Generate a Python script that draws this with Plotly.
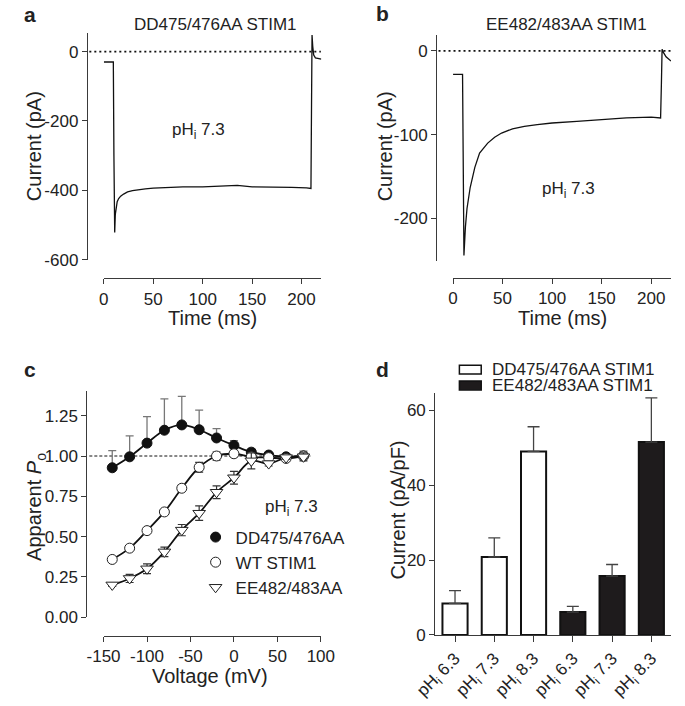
import plotly.graph_objects as go

W, H = 685, 706
FONT = "Liberation Sans, Arial, sans-serif"
TXT = "#222222"
AX = "#3a3a3a"

# ---------------- data ----------------
# Panel a: DD475/476AA STIM1 current trace
a_time = [0, 9.6, 10.2, 11.0, 11.6, 12.3, 13.5, 15, 17, 20, 24, 29, 35, 42, 50, 65, 80,
          100, 120, 135, 150, 170, 190, 205, 209.5, 210.1, 210.6, 211.3, 212.3, 214, 217, 220]
a_current = [-30, -30, -300, -522, -470, -448, -433, -424, -417, -411, -405, -401, -398, -396,
             -394, -392, -390, -390, -388, -386, -390, -392, -392, -393, -395, -150, 48, 15,
             -10, -18, -20, -22]

# Panel b: EE482/483AA STIM1 current trace
b_time = [0, 9.6, 10.2, 11.0, 12.5, 14.1, 17.3, 22, 26.8, 35, 42, 49, 60, 72, 85, 100, 125,
          150, 175, 200, 209.5, 210.3, 211.0, 212.5, 215, 220]
b_current = [-28, -28, -120, -244, -210, -188, -163, -139, -122, -110, -103, -98, -93, -90,
             -88, -86, -84, -82, -80, -79, -80, -40, 2, -2, -7, -12]

# Panel c: apparent Po vs voltage
c_voltage = [-140, -120, -100, -80, -60, -40, -20, 0, 20, 40, 60, 80]
c_dd = [0.927, 0.995, 1.08, 1.16, 1.193, 1.163, 1.112, 1.066, 1.024, 1.006, 0.995, 1.0]
c_dd_err = [0.107, 0.13, 0.165, 0.195, 0.177, 0.122, 0.058, 0.03, 0.018, 0.01, 0.01, 0.03]
c_wt = [0.358, 0.428, 0.537, 0.653, 0.80, 0.930, 1.0, 1.014, 0.995, 0.99, 0.985, 1.0]
c_wt_err = [0.01, 0.01, 0.01, 0.015, 0.02, 0.03, 0.025, 0.02, 0.02, 0.01, 0.01, 0.01]
c_ee = [0.20, 0.24, 0.30, 0.405, 0.54, 0.645, 0.775, 0.865, 0.97, 0.953, 0.99, 0.995]
c_ee_err = [0.01, 0.025, 0.03, 0.03, 0.035, 0.045, 0.04, 0.04, 0.05, 0.015, 0.01, 0.025]
c_names = ["DD475/476AA", "WT STIM1", "EE482/483AA"]

# Panel d: current density bars
d_ph = ["6.3", "7.3", "8.3"]
d_dd = [8.4, 20.8, 49.0]
d_dd_err = [3.4, 5.1, 6.6]
d_ee = [6.1, 15.7, 51.5]
d_ee_err = [1.5, 3.1, 11.8]
d_names = ["DD475/476AA STIM1", "EE482/483AA STIM1"]

a_yticks = [0, -200, -400, -600]
b_yticks = [0, -100, -200]
t_ticks = [0, 50, 100, 150, 200]
c_xticks = [-150, -100, -50, 0, 50, 100]
c_yticks = [0, 0.25, 0.5, 0.75, 1.0, 1.25]
d_yticks = [0, 20, 40, 60]


def fx(px):
    return px / W


def fy(py):
    return 1 - py / H


fig = go.Figure()

# ---- panel a
fig.add_trace(go.Scatter(x=a_time, y=a_current, mode="lines", xaxis="x", yaxis="y",
                         line=dict(color="#111111", width=1.3), showlegend=False))
# ---- panel b
fig.add_trace(go.Scatter(x=b_time, y=b_current, mode="lines", xaxis="x2", yaxis="y2",
                         line=dict(color="#111111", width=1.3), showlegend=False))

# ---- panel c : fitted/connecting lines
for vals in (c_dd, c_wt, c_ee):
    fig.add_trace(go.Scatter(x=c_voltage, y=vals, mode="lines", xaxis="x3", yaxis="y3",
                             line=dict(color="#111111", width=1.8, shape="spline"),
                             showlegend=False))
# markers
fig.add_trace(go.Scatter(
    x=c_voltage, y=c_dd, mode="markers", xaxis="x3", yaxis="y3", name=c_names[0],
    marker=dict(symbol="circle", size=10, color="#111111", line=dict(color="#111111", width=1)),
    error_y=dict(type="data", array=c_dd_err, arrayminus=[0] * len(c_dd_err), symmetric=False,
                 color="#777777", thickness=1.3, width=4),
    legend="legend"))
fig.add_trace(go.Scatter(
    x=c_voltage, y=c_wt, mode="markers", xaxis="x3", yaxis="y3", name=c_names[1],
    marker=dict(symbol="circle", size=10, color="white", line=dict(color="#222222", width=1)),
    error_y=dict(type="data", array=c_wt_err, color="#333333", thickness=1.2, width=4),
    legend="legend"))
fig.add_trace(go.Scatter(
    x=c_voltage, y=c_ee, mode="markers", xaxis="x3", yaxis="y3", name=c_names[2],
    marker=dict(symbol="triangle-down", size=11, color="white", line=dict(color="#222222", width=1)),
    error_y=dict(type="data", array=c_ee_err, color="#333333", thickness=1.2, width=4),
    legend="legend"))

# ---- panel d
n = len(d_ph)
fig.add_trace(go.Bar(
    x=list(range(n)), y=d_dd, xaxis="x4", yaxis="y4", width=0.64, name=d_names[0],
    marker=dict(color="white", line=dict(color="#111111", width=2)),
    error_y=dict(type="data", array=d_dd_err, arrayminus=[0] * n, symmetric=False,
                 color="#444444", thickness=1.3, width=6),
    showlegend=False))
fig.add_trace(go.Bar(
    x=list(range(n, 2 * n)), y=d_ee, xaxis="x4", yaxis="y4", width=0.64, name=d_names[1],
    marker=dict(color="#1e1b1c", line=dict(color="#111111", width=2)),
    error_y=dict(type="data", array=d_ee_err, arrayminus=[0] * n, symmetric=False,
                 color="#444444", thickness=1.3, width=6),
    showlegend=False))

tickfont = dict(family=FONT, size=17, color=TXT)
common = dict(showgrid=False, zeroline=False, showline=True, linecolor=AX, linewidth=1.3,
              ticks="outside", ticklen=5, tickwidth=1.3, tickcolor=AX, tickfont=tickfont,
              fixedrange=True)


def labels(vals, fmt="{:g}"):
    return [fmt.format(v) for v in vals]


layout = dict(
    width=W, height=H, margin=dict(l=0, r=0, t=0, b=0),
    paper_bgcolor="white", plot_bgcolor="white", hovermode=False,
    barmode="overlay",
    font=dict(family=FONT, size=17, color=TXT),
    xaxis=dict(domain=[fx(87.3), fx(316.5)], range=[0, 220], anchor="free", position=fy(282),
               tickvals=t_ticks, ticktext=labels(t_ticks), **common),
    yaxis=dict(domain=[fy(264), fy(33)], range=[-602, 55], anchor="free", position=fx(69.5),
               tickvals=a_yticks, ticktext=labels(a_yticks), **common),
    xaxis2=dict(domain=[fx(455.3), fx(685)], range=[0, 220], anchor="free", position=fy(281.7),
                tickvals=t_ticks, ticktext=labels(t_ticks), **common),
    yaxis2=dict(domain=[fy(265), fy(35)], range=[-251, 19.6], anchor="free", position=fx(437.7),
                tickvals=b_yticks, ticktext=labels(b_yticks), **common),
    xaxis3=dict(domain=[fx(87), fx(316)], range=[-150, 100], anchor="free", position=fy(645),
                tickvals=c_xticks, ticktext=labels(c_xticks), **common),
    yaxis3=dict(domain=[fy(626), fy(396.7)], range=[0, 1.403], anchor="free", position=fx(69),
                tickvals=c_yticks, ticktext=labels(c_yticks, "{:.2f}"), **common),
    xaxis4=dict(domain=[fx(436.7), fx(685)], range=[-0.5, 2 * n - 0.5], anchor="y4",
                tickvals=list(range(2 * n)),
                ticktext=["pH<sub>i</sub> " + p for p in d_ph] * 2, tickangle=-45,
                **{**common, "ticklen": 6}),
    yaxis4=dict(domain=[fy(644), fy(398.3)], range=[0, 64.7], anchor="x4",
                tickvals=d_yticks, ticktext=labels(d_yticks), **common),
    legend=dict(x=fx(184), y=fy(527), xanchor="left", yanchor="top",
                font=dict(family=FONT, size=17, color=TXT), bgcolor="rgba(0,0,0,0)",
                tracegroupgap=0, itemclick=False, itemdoubleclick=False),
)
fig.update_layout(**layout)

# reference lines
fig.add_shape(type="line", xref="paper", yref="y", x0=fx(72), x1=fx(316), y0=0, y1=0,
              line=dict(color="#111111", width=1.6, dash="2px,3px"))
fig.add_shape(type="line", xref="paper", yref="y2", x0=fx(440), x1=fx(685), y0=0, y1=0,
              line=dict(color="#111111", width=1.6, dash="2px,3px"))
fig.add_shape(type="line", xref="paper", yref="y3", x0=fx(72), x1=fx(305), y0=1, y1=1,
              line=dict(color="#111111", width=1, dash="3px,2px"), layer="below")

# legend for panel d (swatches)
fig.add_shape(type="rect", xref="paper", yref="paper", x0=fx(462), x1=fx(485),
              y0=fy(379.5), y1=fy(370.5), line=dict(color="#111111", width=1.5), fillcolor="white")
fig.add_shape(type="rect", xref="paper", yref="paper", x0=fx(462), x1=fx(485),
              y0=fy(395.5), y1=fy(386.5), line=dict(color="#111111", width=1.5), fillcolor="#1e1b1c")

ann = []


def text(x, y, s, size=17, bold=False, angle=0, xanchor="center"):
    ann.append(dict(x=fx(x), y=fy(y), xref="paper", yref="paper", text=("<b>%s</b>" % s) if bold else s,
                    showarrow=False, textangle=angle, xanchor=xanchor, yanchor="middle",
                    font=dict(family=FONT, size=size, color=TXT)))


# panel letters
text(10, 15, "a", 21, True)
text(381, 14, "b", 21, True)
text(9, 375, "c", 21, True)
text(381, 375, "d", 21, True)
# titles
text(205, 25, "DD475/476AA STIM1")
text(575, 25, "EE482/483AA STIM1")
text(187, 133, "pH<sub>i</sub> 7.3")
text(577, 193, "pH<sub>i</sub> 7.3")
text(285, 515, "pH<sub>i</sub> 7.3")
# axis titles
text(14, 148, "Current (pA)", 20, angle=-90)
text(202, 323, "Time (ms)", 20)
text(383, 148, "Current (pA)", 20, angle=-90)
text(571, 323, "Time (ms)", 20)
text(16, 514, "Apparent <i>P</i><sub>o</sub>", 20, angle=-90)
text(199, 686, "Voltage (mV)", 20)
text(397, 517, "Current (pA/pF)", 20, angle=-90)
# panel d legend text
text(494, 375, d_names[0], 17, xanchor="left")
text(494, 391, d_names[1], 17, xanchor="left")

fig.update_layout(annotations=ann)
fig.write_html("out.html", config={"displayModeBar": False},
               post_script="document.body.style.margin='0px';")
